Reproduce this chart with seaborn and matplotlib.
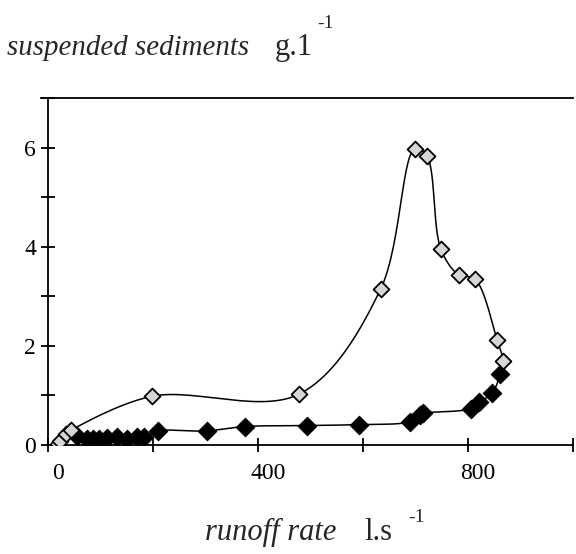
import numpy as np
import pandas as pd
import matplotlib
matplotlib.use("Agg")
import matplotlib.pyplot as plt
import matplotlib.transforms as mtransforms
import seaborn as sns
from matplotlib.ticker import MultipleLocator

# =========================
# dados
# =========================
# ramo de subida (losangos claros)
q_subida = [18, 23, 33, 44, 197, 477, 633, 698, 721, 748, 782, 813, 855, 866]
c_subida = [0.02, 0.08, 0.22, 0.30, 0.98, 1.02, 3.14, 5.97, 5.84, 3.95, 3.43, 3.35, 2.12, 1.70]

# ramo de descida (losangos pretos)
q_descida = [861, 846, 821, 805, 714, 708, 690, 591, 493, 375, 302, 208,
             183, 168, 150, 130, 112, 97, 85, 73, 55]
c_descida = [1.43, 1.05, 0.86, 0.73, 0.64, 0.61, 0.47, 0.41, 0.39, 0.37, 0.28, 0.28,
             0.15, 0.15, 0.12, 0.15, 0.14, 0.11, 0.12, 0.11, 0.17]

x_ticks = [0, 400, 800]
y_ticks = [0, 2, 4, 6]


# ----------------------------
# curva suavizada (Catmull-Rom centrípeta, feita em escala de pixels)
# ----------------------------
def suavizar(x, y, sx=0.524, sy=49.3, n=30):
    p = np.column_stack([np.array(x) * sx, np.array(y) * sy]).astype(float)
    pts = np.vstack([2 * p[0] - p[1], p, 2 * p[-1] - p[-2]])
    saida = []
    for i in range(1, len(pts) - 2):
        P0, P1, P2, P3 = pts[i - 1], pts[i], pts[i + 1], pts[i + 2]
        t0 = 0.0
        t1 = t0 + np.linalg.norm(P1 - P0) ** 0.5
        t2 = t1 + np.linalg.norm(P2 - P1) ** 0.5
        t3 = t2 + np.linalg.norm(P3 - P2) ** 0.5
        t = np.linspace(t1, t2, n)[:, None]
        A1 = (t1 - t) / (t1 - t0) * P0 + (t - t0) / (t1 - t0) * P1
        A2 = (t2 - t) / (t2 - t1) * P1 + (t - t1) / (t2 - t1) * P2
        A3 = (t3 - t) / (t3 - t2) * P2 + (t - t2) / (t3 - t2) * P3
        B1 = (t2 - t) / (t2 - t0) * A1 + (t - t0) / (t2 - t0) * A2
        B2 = (t3 - t) / (t3 - t1) * A2 + (t - t1) / (t3 - t1) * A3
        C = (t2 - t) / (t2 - t1) * B1 + (t - t1) / (t2 - t1) * B2
        saida.append(C if i == 1 else C[1:])
    saida = np.vstack(saida)
    return saida[:, 0] / sx, saida[:, 1] / sy


todos_q = [0] + q_subida + q_descida
todos_c = [0] + c_subida + c_descida
cx, cy = suavizar(todos_q, todos_c)
curva = pd.DataFrame({"q": cx, "c": cy})

df_sub = pd.DataFrame({"q": q_subida, "c": c_subida})
df_desc = pd.DataFrame({"q": q_descida, "c": c_descida})

# ----------------------------
# gráfico
# ----------------------------
sns.set_style("white")
plt.rcParams["font.family"] = ["Liberation Serif", "DejaVu Serif"]

fig = plt.figure(figsize=(5.76, 5.54), dpi=100)
ax = fig.add_axes([0.084, 0.197, 0.911, 0.626])

sns.lineplot(data=curva, x="q", y="c", sort=False, estimator=None,
             color="black", linewidth=1.1, ax=ax, zorder=2)
sns.scatterplot(data=df_desc, x="q", y="c", marker="D", s=88,
                color="black", edgecolor="black", linewidth=0.8, ax=ax, zorder=3)
sns.scatterplot(data=df_sub, x="q", y="c", marker="D", s=65,
                color="#d6d6d6", edgecolor="black", linewidth=1.3, ax=ax, zorder=4)

ax.set_xlim(0, 1000)
ax.set_ylim(0, 7)
ax.set_xticks(x_ticks)
ax.set_yticks(y_ticks)
ax.xaxis.set_minor_locator(MultipleLocator(200))
ax.yaxis.set_minor_locator(MultipleLocator(1))
ax.tick_params(which="both", direction="inout", length=9.5, width=1.3,
               labelsize=17, colors="black", bottom=True, left=True)
ax.tick_params(axis="x", pad=8.5)
ax.tick_params(axis="y", pad=4)
ax.set_xlabel("")
ax.set_ylabel("")

# rótulos do eixo x deslocados para a direita como no original
desloc = mtransforms.ScaledTranslation(0.10, 0, fig.dpi_scale_trans)
for rot in ax.get_xticklabels():
    rot.set_transform(rot.get_transform() + desloc)

for lado in ["left", "bottom", "top"]:
    ax.spines[lado].set_visible(True)
    ax.spines[lado].set_color("black")
    ax.spines[lado].set_linewidth(1.3)
ax.spines["right"].set_visible(False)
ax.spines["top"].set_bounds(-15, 1000)
ax.grid(False)

# títulos dos eixos
fig.text(0.012, 0.900, "suspended sediments", fontsize=20.8, style="italic", ha="left", va="baseline")
fig.text(0.477, 0.900, "g.1", fontsize=22, ha="left", va="baseline")
fig.text(0.550, 0.949, "-1", fontsize=14, ha="left", va="baseline")

fig.text(0.356, 0.025, "runoff rate", fontsize=22, style="italic", ha="left", va="baseline")
fig.text(0.633, 0.025, "l.s", fontsize=22, ha="left", va="baseline")
fig.text(0.708, 0.058, "-1", fontsize=14, ha="left", va="baseline")

fig.savefig("out.png", dpi=100)
